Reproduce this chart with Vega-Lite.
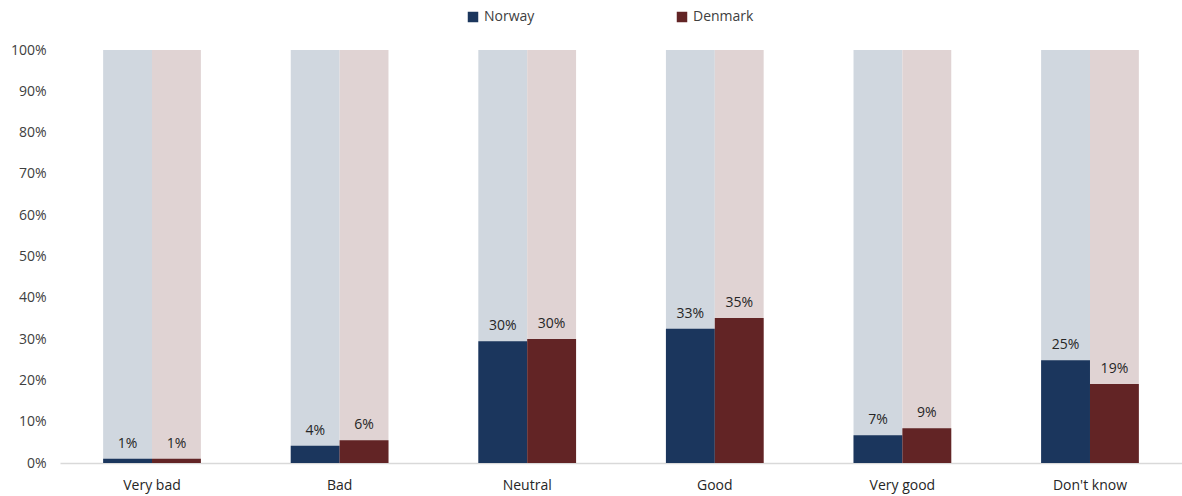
{
  "$schema": "https://vega.github.io/schema/vega-lite/v6.json",
  "width": 1122,
  "height": 413,
  "autosize": {"type": "none"},
  "padding": {"left": 60, "top": 50, "right": 0, "bottom": 33},
  "background": "white",
  "config": {
    "view": {"stroke": null},
    "font": "Open Sans",
    "axisY": {
      "labelOverlap": false,
      "grid": false,
      "ticks": false,
      "domain": false,
      "labelFontSize": 14,
      "labelColor": "#404040",
      "labelPadding": 14,
      "labelFont": "Open Sans"
    }
  },
  "data": {
    "values": [
      {"category": "Very bad", "country": "Norway", "value": 0.010, "label": "1%"},
      {"category": "Very bad", "country": "Denmark", "value": 0.010, "label": "1%"},
      {"category": "Bad", "country": "Norway", "value": 0.042, "label": "4%"},
      {"category": "Bad", "country": "Denmark", "value": 0.055, "label": "6%"},
      {"category": "Neutral", "country": "Norway", "value": 0.295, "label": "30%"},
      {"category": "Neutral", "country": "Denmark", "value": 0.300, "label": "30%"},
      {"category": "Good", "country": "Norway", "value": 0.325, "label": "33%"},
      {"category": "Good", "country": "Denmark", "value": 0.351, "label": "35%"},
      {"category": "Very good", "country": "Norway", "value": 0.067, "label": "7%"},
      {"category": "Very good", "country": "Denmark", "value": 0.084, "label": "9%"},
      {"category": "Don't know", "country": "Norway", "value": 0.249, "label": "25%"},
      {"category": "Don't know", "country": "Denmark", "value": 0.191, "label": "19%"}
    ]
  },
  "encoding": {
    "x": {
      "field": "category",
      "type": "nominal",
      "sort": ["Very bad", "Bad", "Neutral", "Good", "Very good", "Don't know"],
      "scale": {"paddingInner": 0.479, "paddingOuter": 0.23},
      "axis": {
        "title": null,
        "labelAngle": 0,
        "ticks": false,
        "domainColor": "#d9d9d9",
        "domainWidth": 1.5,
        "labelFontSize": 14,
        "labelColor": "#262626",
        "labelPadding": 15,
        "labelFont": "Open Sans"
      }
    },
    "xOffset": {"field": "country", "type": "nominal", "sort": ["Norway", "Denmark"], "scale": {"paddingInner": 0, "paddingOuter": 0}}
  },
  "layer": [
    {
      "mark": {"type": "bar"},
      "encoding": {
        "y": {"datum": 1, "type": "quantitative", "scale": {"domain": [0, 1]},
          "axis": {"title": null, "format": ".0%", "values": [0, 0.1, 0.2, 0.3, 0.4, 0.5, 0.6, 0.7, 0.8, 0.9, 1]}},
        "color": {
          "condition": {"test": "datum.country === 'Norway'", "value": "#d0d7df"},
          "value": "#e0d3d3"
        }
      }
    },
    {
      "mark": {"type": "bar"},
      "encoding": {
        "y": {"field": "value", "type": "quantitative",
          "axis": {"title": null, "format": ".0%", "values": [0, 0.1, 0.2, 0.3, 0.4, 0.5, 0.6, 0.7, 0.8, 0.9, 1]}},
        "color": {
          "field": "country",
          "type": "nominal",
          "sort": ["Norway", "Denmark"],
          "scale": {"domain": ["Norway", "Denmark"], "range": ["#1b365d", "#622425"]},
          "legend": {
            "title": null,
            "orient": "none",
            "legendX": 406,
            "legendY": -40,
            "direction": "horizontal",
            "symbolType": "square",
            "symbolSize": 110,
            "labelFontSize": 14,
            "labelColor": "#404040",
            "labelFont": "Open Sans",
            "columnPadding": 140,
            "symbolStrokeWidth": 0
          }
        }
      }
    },
    {
      "mark": {"type": "text", "baseline": "alphabetic", "dy": -11, "fontSize": 14, "color": "#262626", "font": "Open Sans"},
      "encoding": {
        "y": {"field": "value", "type": "quantitative",
          "axis": {"title": null, "format": ".0%", "values": [0, 0.1, 0.2, 0.3, 0.4, 0.5, 0.6, 0.7, 0.8, 0.9, 1]}},
        "text": {"field": "label"}
      }
    }
  ]
}
